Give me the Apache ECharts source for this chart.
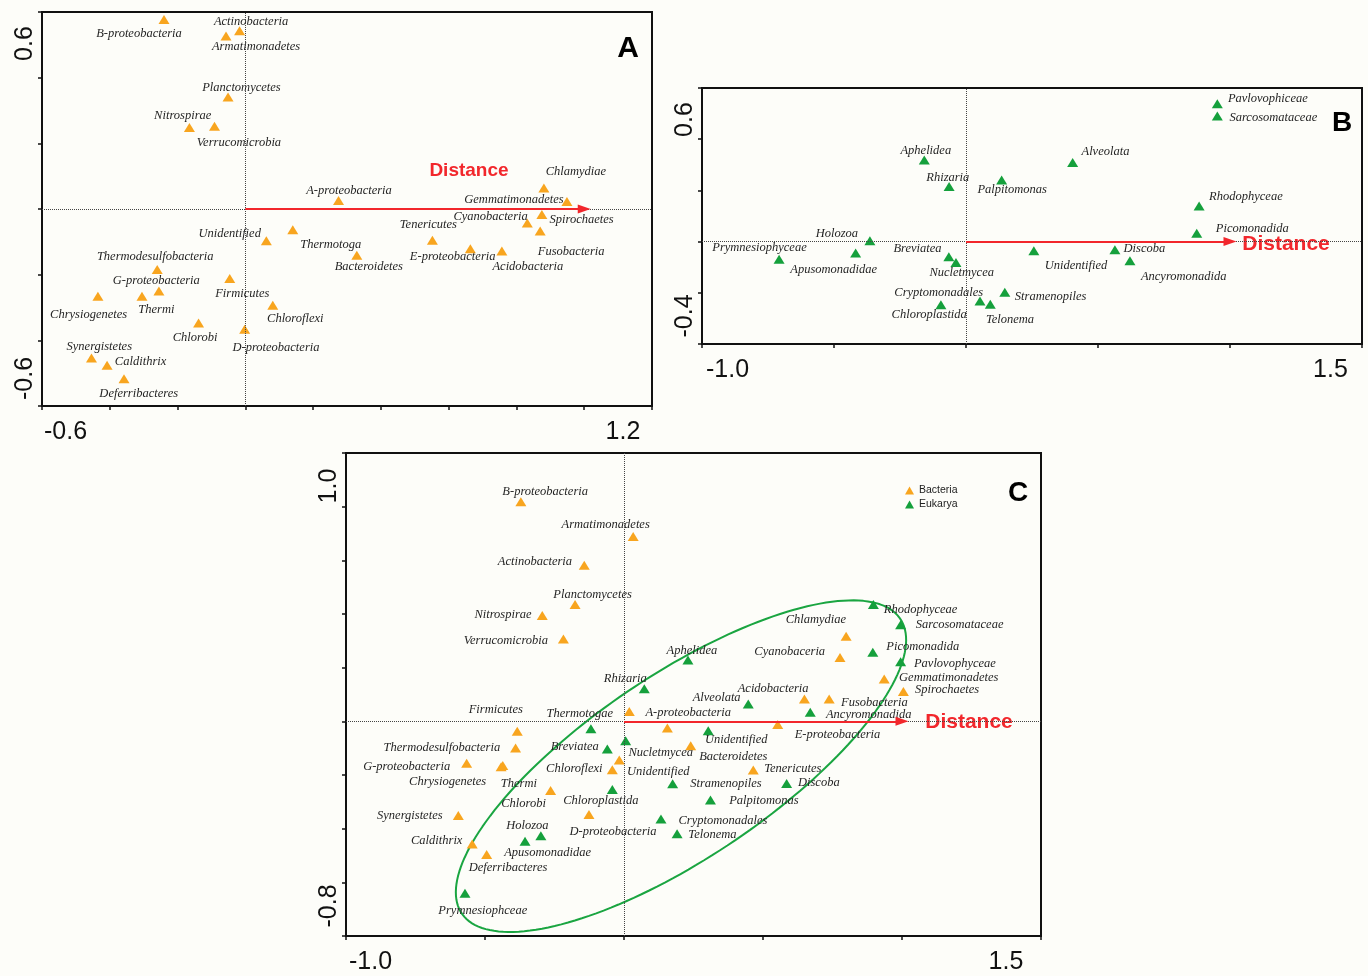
<!DOCTYPE html>
<html><head><meta charset="utf-8">
<script src="https://cdn.jsdelivr.net/npm/echarts@6/dist/echarts.min.js"></script>
<style>html,body{margin:0;padding:0;background:#fdfdf9}#c{width:1368px;height:976px}</style>
</head><body><div id="c"></div>
<script>
// ---------------- DATA ----------------
// Panel A : Bacteria
const bactA_names = ['B-proteobacteria','Actinobacteria','Armatimonadetes','Planctomycetes','Nitrospirae','Verrucomicrobia','A-proteobacteria','Chlamydiae','Gemmatimonadetes','Cyanobacteria','Spirochaetes','Tenericutes','Fusobacteria','E-proteobacteria','Acidobacteria','Unidentified','Thermotoga','Bacteroidetes','Thermodesulfobacteria','G-proteobacteria','Chrysiogenetes','Thermi','Firmicutes','Chloroflexi','Chlorobi','D-proteobacteria','Synergistetes','Caldithrix','Deferribacteres'];
const bactA_x = [-0.240,-0.017,-0.057,-0.051,-0.165,-0.091,0.275,0.881,0.949,0.832,0.875,0.552,0.870,0.664,0.757,0.062,0.140,0.329,-0.260,-0.255,-0.435,-0.305,-0.046,0.081,-0.138,-0.002,-0.454,-0.408,-0.358];
const bactA_y = [0.577,0.543,0.527,0.341,0.248,0.252,0.026,0.064,0.023,-0.043,-0.017,-0.095,-0.067,-0.121,-0.128,-0.097,-0.063,-0.141,-0.184,-0.250,-0.266,-0.266,-0.212,-0.293,-0.347,-0.366,-0.454,-0.476,-0.517];

// Panel B : Eukarya
const eukB_names = ['Pavlovophiceae','Sarcosomataceae','Aphelidea','Alveolata','Rhizaria','Palpitomonas','Rhodophyceae','Picomonadida','Holozoa','Breviatea','Prymnesiophyceae','Apusomonadidae','Nucletmycea','Unidentified','Discoba','Ancyromonadida','Cryptomonadales','Stramenopiles','Chloroplastida','Telonema'];
const eukB_x = [0.952,0.952,-0.158,0.404,-0.064,0.135,0.883,0.874,-0.364,-0.065,-0.708,-0.418,-0.038,0.257,0.564,0.621,0.053,0.147,-0.095,0.092];
const eukB_y = [0.538,0.491,0.319,0.309,0.215,0.241,0.139,0.033,0.003,-0.059,-0.069,-0.045,-0.082,-0.036,-0.032,-0.075,-0.232,-0.198,-0.247,-0.245];

// Panel C : Bacteria + Eukarya
const bactC_names = ['B-proteobacteria','Armatimonadetes','Actinobacteria','Planctomycetes','Nitrospirae','Verrucomicrobia','Chlamydiae','Cyanobaceria','Gemmatimonadetes','Spirochaetes','Acidobacteria','Fusobacteria','E-proteobacteria','Thermotogae','A-proteobacteria','Firmicutes','Thermodesulfobacteria','G-proteobacteria','Thermi','Chrysiogenetes','Chlorobi','Chloroflexi','Unidentified','Bacteroidetes','Tenericutes','D-proteobacteria','Synergistetes','Caldithrix','Deferribacteres'];
const bactC_x = [-0.371,0.033,-0.143,-0.176,-0.294,-0.218,0.799,0.777,0.936,1.005,0.649,0.738,0.553,0.019,0.156,-0.384,-0.390,-0.566,-0.436,-0.442,-0.264,-0.042,-0.017,0.240,0.465,-0.126,-0.596,-0.546,-0.494];
const bactC_y = [0.818,0.689,0.582,0.435,0.394,0.307,0.317,0.238,0.158,0.111,0.083,0.083,-0.012,0.037,-0.025,-0.037,-0.099,-0.156,-0.165,-0.169,-0.258,-0.180,-0.144,-0.091,-0.181,-0.347,-0.351,-0.457,-0.496];

const eukC_names = ['Rhodophyceae','Sarcosomataceae','Picomonadida','Pavlovophyceae','Aphelidea','Rhizaria','Alveolata','Ancyromonadida','','Breviatea','Nucletmycea','Unidentified','Stramenopiles','Discoba','Palpitomonas','Chloroplastida','Cryptomonadales','Telonema','Holozoa','Apusomonadidae','Prymnesiophceae'];
const eukC_x = [0.897,0.995,0.895,0.995,0.230,0.073,0.447,0.670,-0.119,-0.060,0.006,0.303,0.175,0.585,0.311,-0.042,0.133,0.191,-0.299,-0.356,-0.572];
const eukC_y = [0.435,0.360,0.257,0.222,0.229,0.121,0.065,0.034,-0.028,-0.103,-0.072,-0.035,-0.233,-0.232,-0.293,-0.254,-0.364,-0.419,-0.426,-0.447,-0.641];

// Distance vectors (length along axis 1)
const distanceA = 1.0, distanceB = 1.0, distanceC = 1.0;
// Ellipse around Eukarya in panel C: centre, semi-axes, angle (deg)
const ellipseC = [0.205, -0.167, 0.961, 0.338, 35.1];

// Axis tick labels (end labels only)
const tickA_x = ['-0.6','1.2'], tickA_y = ['-0.6','0.6'];
const tickB_x = ['-1.0','1.5'], tickB_y = ['-0.4','0.6'];
const tickC_x = ['-1.0','1.5'], tickC_y = ['-0.8','1.0'];
const stepA = [0.2, 0.2], stepB = [0.5, 0.2], stepC = [0.5, 0.2];

// ---------------- LAYOUT (label offsets in px, label centre relative to marker) ----------------
const offA = [[-25,14],[11.5,-8.6],[30,11],[13.4,-9],[-6.7,-12.3],[24.5,16.3],[10.5,-10],[32,-16],[-53,-1.7],[-36.7,-6.7],[39.7,5],[-4,-15],[31,21],[-17.7,8.4],[26,16],[-36.7,-7.4],[38,14.7],[12,11.7],[-2,-12.3],[-2.6,-10],[-9.3,18],[14.4,13.3],[12.5,15],[22.5,13.3],[-3.5,14.6],[31.3,18.3],[7.8,-11],[33.5,-3.3],[14.7,15]];
const offB = [[50.5,-5],[56,1.7],[1.5,-9.3],[32.8,-11],[-1.3,-9],[10.5,10],[46.8,-9.3],[55.5,-4],[-33,-7],[-31.3,-8.4],[-19.6,-12],[-22,16.7],[5.7,10.6],[42.2,15],[29.5,-1],[53.8,16.3],[-41.2,-8.7],[45.8,4.4],[-11.7,10],[19.7,15]];
const offCb = [[24.3,-10],[-27.5,-11.7],[-49.3,-3.3],[17.5,-9.7],[-39.3,-1],[-57.5,1.7],[-30.2,-16.7],[-50.3,-5.7],[64.5,-1.6],[43.7,-1.7],[-31.3,-10.6],[45.2,4],[59.8,10],[-49.5,2.6],[20.9,-15.3],[-21.5,-21.7],[-73.7,-0.6],[-60,4],[16.1,18.3],[-53.5,14.7],[-27,12.7],[-38,-0.7],[39,11.7],[42.6,10.7],[39.5,-1.6],[24,17.7],[-48.5,0],[-35.5,-3.3],[21.3,13.3]];
const offCe = [[47.2,5],[59,0.3],[50,-5.7],[54.3,1.7],[4,-9.3],[-19,-10.6],[-31.6,-6.6],[58.5,2.3],[0,0],[-32.6,-2.6],[35,11.7],[28,9.3],[53.3,0],[32.2,-0.7],[53.5,0.7],[-11.5,11],[62,1.7],[35.3,1.3],[-13.5,-10],[22.5,11],[17.8,17.3]];

const ORANGE = '#f8a51f', GREEN = '#15a03c', RED = '#f2272c', INK = '#111';
const LABEL_FONT = '"Liberation Serif", "Times New Roman", serif';
const TICK_FONT = '"Liberation Sans", Arial, sans-serif';
const SYM = [11, 9];

function pts(xs, ys, names, offs) {
  return names.map((n, i) => ({ name: n, value: [xs[i], ys[i]],
    label: { show: n !== '', position: [SYM[0] / 2 + offs[i][0], SYM[1] / 2 + offs[i][1]],
             align: 'center', verticalAlign: 'middle' } }));
}
const near = (a, b) => Math.abs(a - b) < 1e-6;

function axis(dim, gi, ticks, step, pads, rotated, margin) {
  const lo = parseFloat(ticks[0]), hi = parseFloat(ticks[1]);
  const base = { fontSize: 25, fontFamily: TICK_FONT, color: INK };
  return {
    type: 'value', gridIndex: gi, min: lo, max: hi, interval: step,
    axisLine: { show: true, onZero: false, lineStyle: { color: INK, width: 2 } },
    axisTick: { show: true, length: 4, lineStyle: { color: INK, width: 1.5 } },
    splitLine: { show: false },
    axisLabel: {
      show: true, interval: 0, margin: margin, rotate: rotated ? 90 : 0,
      showMinLabel: true, showMaxLabel: true, hideOverlap: false,
      formatter: v => near(v, lo) ? '{lo|' + ticks[0] + '}' : (near(v, hi) ? '{hi|' + ticks[1] + '}' : ''),
      rich: {
        lo: Object.assign({}, base, { padding: [0, 0, 0, pads[0]] }),
        hi: Object.assign({}, base, { padding: [0, pads[1], 0, 0] })
      }
    }
  };
}

function zeroAndArrow(dist) {
  return {
    silent: true, symbol: ['none', 'none'], animation: false,
    label: { show: false },
    data: [
      { xAxis: 0, lineStyle: { type: 'dotted', color: '#444', width: 1 } },
      { yAxis: 0, lineStyle: { type: 'dotted', color: '#444', width: 1 } },
      [ { coord: [0, 0], symbol: 'none', lineStyle: { color: RED, width: 2, type: 'solid' } },
        { coord: [dist, 0], symbol: 'triangle', symbolSize: [9, 13] } ]
    ]
  };
}

function ellipsePts(p) {
  const [cx, cy, a, b, deg] = p, th = deg * Math.PI / 180, out = [];
  for (let k = 0; k <= 180; k++) {
    const t = 2 * Math.PI * k / 180;
    out.push([cx + a * Math.cos(t) * Math.cos(th) - b * Math.sin(t) * Math.sin(th),
              cy + a * Math.cos(t) * Math.sin(th) + b * Math.sin(t) * Math.cos(th)]);
  }
  return out;
}

const labelBase = { show: true, formatter: '{b}', fontFamily: LABEL_FONT,
  fontStyle: 'italic', fontSize: 12.5, color: '#252525', textBorderWidth: 0,
  align: 'center', verticalAlign: 'middle' };

function scatter(name, gi, data, color, ml) {
  const s = { type: 'scatter', name: name, xAxisIndex: gi, yAxisIndex: gi, data: data,
    symbol: 'triangle', symbolSize: SYM, itemStyle: { color: color, opacity: 1 },
    label: labelBase, labelLayout: { hideOverlap: false }, emphasis: { disabled: true },
    silent: true, z: 3, clip: false };
  if (ml) s.markLine = ml;
  return s;
}

const gridBase = { show: true, borderColor: INK, borderWidth: 2, backgroundColor: 'transparent',
  containLabel: false, outerBoundsMode: 'none' };

const option = {
  animation: false,
  backgroundColor: '#fdfdf9',
  grid: [
    Object.assign({ left: 42, top: 12, width: 610, height: 394 }, gridBase),
    Object.assign({ left: 702, top: 88, width: 660, height: 256 }, gridBase),
    Object.assign({ left: 346, top: 453, width: 695, height: 483 }, gridBase)
  ],
  xAxis: [
    axis('x', 0, tickA_x, stepA[0], [47, 58], false, 14),
    axis('x', 1, tickB_x, stepB[0], [51, 63], false, 14),
    axis('x', 2, tickC_x, stepC[0], [49, 70], false, 14)
  ],
  yAxis: [
    axis('y', 0, tickA_y, stepA[1], [55, 63], true, 4),
    axis('y', 1, tickB_y, stepB[1], [56, 63], true, 4),
    axis('y', 2, tickC_y, stepC[1], [60, 66], true, 4)
  ],
  legend: {
    data: ['Bacteria', 'Eukarya'], orient: 'vertical', left: 900, top: 480,
    itemWidth: 9, itemHeight: 8, itemGap: 3, icon: 'triangle', selectedMode: false,
    textStyle: { fontFamily: TICK_FONT, fontSize: 10.5, color: '#222' }
  },
  series: [
    scatter('A-Bacteria', 0, pts(bactA_x, bactA_y, bactA_names, offA), ORANGE, zeroAndArrow(distanceA)),
    scatter('B-Eukarya', 1, pts(eukB_x, eukB_y, eukB_names, offB), GREEN, zeroAndArrow(distanceB)),
    { type: 'line', name: 'ellipse', xAxisIndex: 2, yAxisIndex: 2, data: ellipsePts(ellipseC),
      showSymbol: false, symbol: 'none', silent: true, z: 2,
      lineStyle: { color: '#1aa541', width: 2 }, emphasis: { disabled: true } },
    scatter('Bacteria', 2, pts(bactC_x, bactC_y, bactC_names, offCb), ORANGE, zeroAndArrow(distanceC)),
    scatter('Eukarya', 2, pts(eukC_x, eukC_y, eukC_names, offCe), GREEN)
  ],
  graphic: [
    { type: 'text', x: 628, y: 49, style: { text: 'A', font: 'bold 30px ' + TICK_FONT, fill: '#000', align: 'center', verticalAlign: 'middle' } },
    { type: 'text', x: 1342, y: 123, style: { text: 'B', font: 'bold 28px ' + TICK_FONT, fill: '#000', align: 'center', verticalAlign: 'middle' } },
    { type: 'text', x: 1018, y: 493, style: { text: 'C', font: 'bold 28px ' + TICK_FONT, fill: '#000', align: 'center', verticalAlign: 'middle' } },
    { type: 'text', x: 469, y: 171, style: { text: 'Distance', font: 'bold 19px ' + TICK_FONT, fill: RED, align: 'center', verticalAlign: 'middle' } },
    { type: 'text', x: 1286, y: 244, style: { text: 'Distance', font: 'bold 21px ' + TICK_FONT, fill: RED, align: 'center', verticalAlign: 'middle' } },
    { type: 'text', x: 969, y: 722, style: { text: 'Distance', font: 'bold 21px ' + TICK_FONT, fill: RED, align: 'center', verticalAlign: 'middle' } }
  ]
};

const chart = echarts.init(document.getElementById('c'), null, { renderer: 'canvas' });
chart.setOption(option);
</script></body></html>
